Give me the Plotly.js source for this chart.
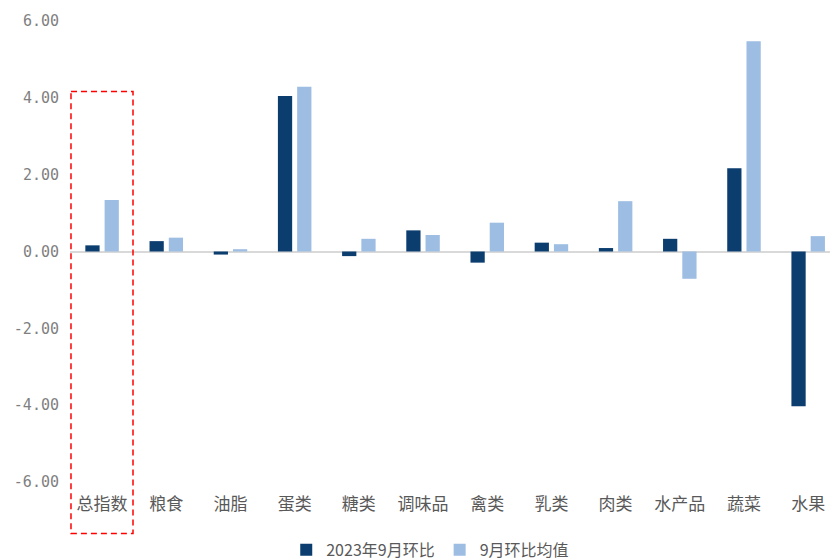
<!DOCTYPE html>
<html>
<head>
<meta charset="utf-8">
<script src="https://cdn.plot.ly/plotly-3.0.1.min.js"></script>
<style>html,body{margin:0;padding:0;background:#fff;}#chart{width:830px;height:560px;}</style>
</head>
<body>
<div id="chart"></div>
<script>
const categories = ["总指数","粮食","油脂","蛋类","糖类","调味品","禽类","乳类","肉类","水产品","蔬菜","水果"];
const series2023Sep = [0.16, 0.27, -0.08, 4.05, -0.12, 0.55, -0.29, 0.23, 0.09, 0.33, 2.17, -4.03];
const seriesSepAvg = [1.34, 0.36, 0.06, 4.29, 0.33, 0.43, 0.75, 0.19, 1.31, -0.71, 5.47, 0.40];
const seriesNames = ["2023年9月环比", "9月环比均值"];
const yTickVals = [-6, -4, -2, 0, 2, 4, 6];
const yTickText = ["-6.00", "-4.00", "-2.00", "0.00", "2.00", "4.00", "6.00"];

const cjk = '"Noto Sans CJK SC", "Noto Sans", sans-serif';

const traces = [
  {type: 'bar', name: seriesNames[0], x: categories, y: series2023Sep, marker: {color: '#0b3d6e'}},
  {type: 'bar', name: seriesNames[1], x: categories, y: seriesSepAvg, marker: {color: '#9dbde3'}}
];

const layout = {
  width: 830, height: 560,
  margin: {l: 70, r: 0, t: 21, b: 78, autoexpand: false},
  paper_bgcolor: '#ffffff', plot_bgcolor: '#ffffff',
  barmode: 'group', bargap: 0.40, bargroupgap: 0.26,
  showlegend: true,
  legend: {orientation: 'h', x: 0.474, xanchor: 'center', yref: 'container', y: 0.018, yanchor: 'middle',
           font: {family: cjk, size: 16, color: '#595959'}, itemwidth: 30, traceorder: 'normal'},
  xaxis: {
    type: 'category', range: [-0.5, 11.34], showgrid: false, showline: false, zeroline: false,
    ticks: '', tickfont: {family: cjk, size: 17, color: '#595959'}, ticklabelstandoff: 10
  },
  yaxis: {
    range: [-6, 6], tickvals: yTickVals, ticktext: yTickText, showgrid: false, showline: false,
    zeroline: true, zerolinecolor: '#d9d9d9', zerolinewidth: 2, ticks: '',
    tickfont: {family: '"DejaVu Sans Mono", monospace', size: 15, color: '#7f7f7f'}, ticklabelstandoff: 10
  },
  shapes: [{
    type: 'rect', xref: 'paper', yref: 'paper', x0: 0.0013, x1: 0.0829, y0: 0.847, y1: -0.1115,
    line: {color: '#ff0000', width: 1.5, dash: '6px,4px'}, fillcolor: 'rgba(0,0,0,0)'
  }]
};

Plotly.newPlot('chart', traces, layout, {displayModeBar: false, staticPlot: true});
</script>
</body>
</html>
